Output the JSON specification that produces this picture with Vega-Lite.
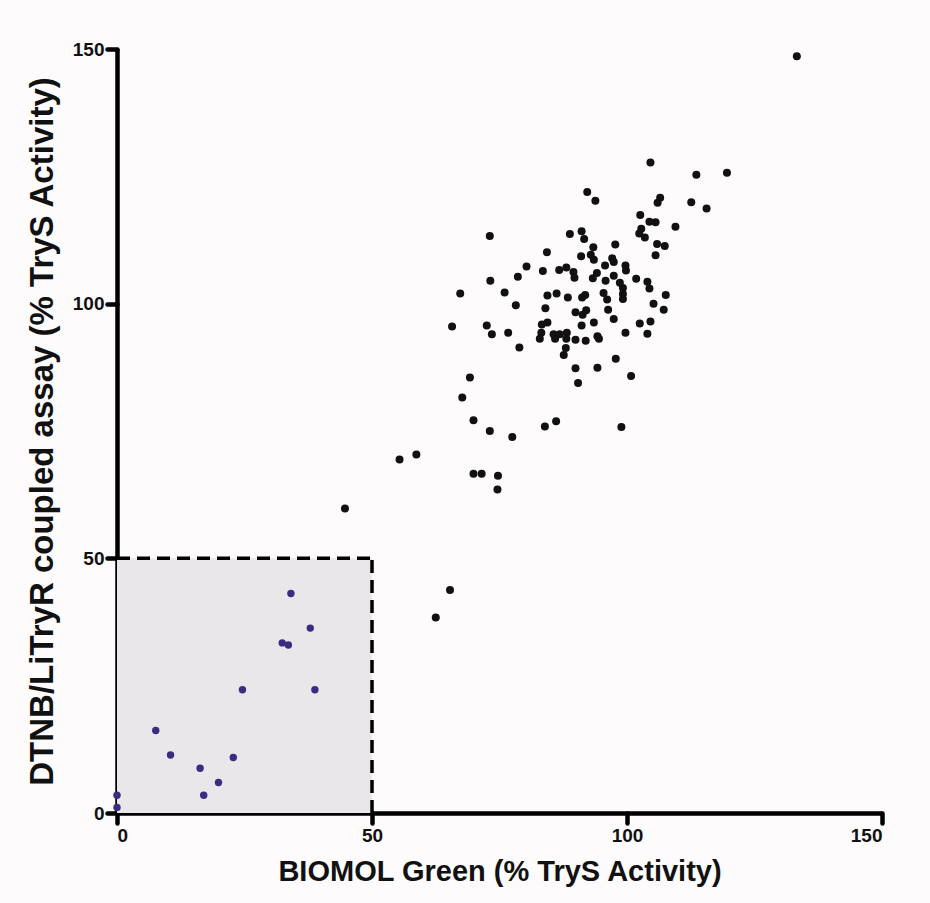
{
  "$schema": "https://vega.github.io/schema/vega-lite/v6.json",
  "autosize": {"type": "none"},
  "width": 765,
  "height": 764,
  "padding": {"left": 117, "top": 49, "right": 48, "bottom": 90},
  "background": "#fdfbfb",
  "config": {
    "view": {"stroke": null},
    "font": "Liberation Sans",
    "axis": {
      "domainColor": "#000000",
      "domainWidth": 4.5,
      "tickColor": "#000000",
      "tickWidth": 4.5,
      "tickSize": 10,
      "tickCap": "round",
      "grid": false,
      "labelFont": "Liberation Sans",
      "labelFontSize": 19,
      "labelFontWeight": "bold",
      "labelColor": "#111111",
      "labelPadding": 3,
      "titleFont": "Liberation Sans",
      "titleFontWeight": "bold",
      "titleColor": "#111111"
    }
  },
  "datasets": {
    "box": [{"x": 0, "x2": 50, "y": 0, "y2": 50}],
    "hline": [{"x": 0, "x2": 50, "y": 50}],
    "vline": [{"x": 50, "y": 0, "y2": 50}],
    "hits": [
      {"x": 34.1, "y": 43.1}, {"x": 37.9, "y": 36.3}, {"x": 32.4, "y": 33.4}, {"x": 33.6, "y": 33.0},
      {"x": 24.6, "y": 24.2}, {"x": 38.8, "y": 24.2}, {"x": 7.6, "y": 16.2}, {"x": 10.5, "y": 11.4},
      {"x": 16.3, "y": 8.8}, {"x": 19.9, "y": 6.0}, {"x": 17.0, "y": 3.5}, {"x": 22.8, "y": 10.9},
      {"x": 0, "y": 3.5}, {"x": 0, "y": 1.1}
    ],
    "pts": [
      {"x": 104.6, "y": 127.7}, {"x": 113.6, "y": 125.3}, {"x": 92.2, "y": 121.9}, {"x": 93.8, "y": 120.2},
      {"x": 106.5, "y": 120.8}, {"x": 106.0, "y": 119.8}, {"x": 112.6, "y": 119.9}, {"x": 115.6, "y": 118.7},
      {"x": 102.6, "y": 117.4}, {"x": 104.4, "y": 116.1}, {"x": 105.6, "y": 116.0}, {"x": 109.5, "y": 115.1},
      {"x": 102.8, "y": 114.7}, {"x": 102.4, "y": 113.8}, {"x": 103.5, "y": 113.0}, {"x": 73.1, "y": 113.3},
      {"x": 88.8, "y": 113.7}, {"x": 91.1, "y": 114.2}, {"x": 91.6, "y": 112.7}, {"x": 93.4, "y": 111.1},
      {"x": 97.7, "y": 111.6}, {"x": 105.9, "y": 111.7}, {"x": 107.4, "y": 111.3}, {"x": 105.6, "y": 109.5},
      {"x": 84.3, "y": 110.1}, {"x": 91.0, "y": 109.3}, {"x": 92.9, "y": 109.6}, {"x": 93.5, "y": 108.6},
      {"x": 97.1, "y": 108.9}, {"x": 97.4, "y": 108.2}, {"x": 95.7, "y": 107.5}, {"x": 99.7, "y": 107.5},
      {"x": 99.8, "y": 106.5}, {"x": 80.3, "y": 107.3}, {"x": 78.6, "y": 105.3}, {"x": 83.5, "y": 106.4},
      {"x": 86.7, "y": 106.6}, {"x": 88.1, "y": 107.1}, {"x": 89.5, "y": 106.2}, {"x": 89.7, "y": 105.1},
      {"x": 94.1, "y": 106.0}, {"x": 93.3, "y": 105.0}, {"x": 97.4, "y": 105.5}, {"x": 95.8, "y": 104.5},
      {"x": 101.8, "y": 104.9}, {"x": 98.6, "y": 104.1}, {"x": 99.2, "y": 103.1}, {"x": 104.0, "y": 104.3},
      {"x": 104.4, "y": 103.0}, {"x": 73.2, "y": 104.5}, {"x": 76.0, "y": 102.2}, {"x": 67.3, "y": 102.0},
      {"x": 78.2, "y": 99.7}, {"x": 84.0, "y": 99.1}, {"x": 84.4, "y": 101.6}, {"x": 86.2, "y": 102.0},
      {"x": 88.4, "y": 101.2}, {"x": 91.2, "y": 101.2}, {"x": 91.8, "y": 101.7}, {"x": 95.4, "y": 102.1},
      {"x": 96.1, "y": 100.8}, {"x": 99.2, "y": 101.9}, {"x": 99.2, "y": 100.9}, {"x": 107.6, "y": 101.7},
      {"x": 105.2, "y": 100.0}, {"x": 107.2, "y": 98.8}, {"x": 89.9, "y": 98.3}, {"x": 92.0, "y": 98.7},
      {"x": 96.3, "y": 98.8}, {"x": 97.4, "y": 97.0}, {"x": 91.3, "y": 97.8}, {"x": 65.7, "y": 95.5},
      {"x": 72.5, "y": 95.7}, {"x": 73.5, "y": 94.0}, {"x": 76.7, "y": 94.3}, {"x": 78.9, "y": 91.4},
      {"x": 83.3, "y": 95.9}, {"x": 84.4, "y": 96.3}, {"x": 83.2, "y": 94.3}, {"x": 82.9, "y": 93.1},
      {"x": 85.6, "y": 94.0}, {"x": 85.9, "y": 93.1}, {"x": 86.8, "y": 94.0}, {"x": 88.2, "y": 94.3},
      {"x": 88.1, "y": 93.1}, {"x": 88.0, "y": 91.3}, {"x": 87.6, "y": 89.9}, {"x": 89.9, "y": 92.9},
      {"x": 91.1, "y": 95.7}, {"x": 93.5, "y": 96.3}, {"x": 91.9, "y": 92.7}, {"x": 94.2, "y": 93.6},
      {"x": 94.5, "y": 93.1}, {"x": 99.7, "y": 94.3}, {"x": 102.5, "y": 96.1}, {"x": 104.6, "y": 96.5},
      {"x": 104.0, "y": 94.1}, {"x": 97.8, "y": 89.2}, {"x": 89.9, "y": 87.3}, {"x": 94.2, "y": 87.4},
      {"x": 90.4, "y": 84.4}, {"x": 100.8, "y": 85.8}, {"x": 69.2, "y": 85.5}, {"x": 67.7, "y": 81.6},
      {"x": 69.9, "y": 77.1}, {"x": 73.1, "y": 75.0}, {"x": 77.5, "y": 73.8}, {"x": 83.9, "y": 75.9},
      {"x": 86.1, "y": 76.9}, {"x": 98.9, "y": 75.8}, {"x": 69.9, "y": 66.6}, {"x": 71.5, "y": 66.6},
      {"x": 74.7, "y": 66.2}, {"x": 74.6, "y": 63.5}, {"x": 133.3, "y": 148.6}, {"x": 119.6, "y": 125.7},
      {"x": 55.4, "y": 69.4}, {"x": 58.7, "y": 70.4}, {"x": 44.7, "y": 59.8}, {"x": 65.3, "y": 43.8},
      {"x": 62.5, "y": 38.4}
    ]
  },
  "layer": [
    {
      "data": {"name": "box"},
      "mark": {"type": "rect", "color": "#e9e7ea"},
      "encoding": {
        "x": {"field": "x", "type": "quantitative", "scale": {"domain": [0, 150], "nice": false},
              "axis": {"values": [0, 50, 100, 150], "title": "BIOMOL Green (% TryS Activity)", "titleFontSize": 29, "titlePadding": 12}},
        "x2": {"field": "x2"},
        "y": {"field": "y", "type": "quantitative", "scale": {"domain": [0, 150], "nice": false},
              "axis": {"values": [0, 50, 100, 150], "title": "DTNB/LiTryR coupled assay (% TryS Activity)", "titleFontSize": 33, "titlePadding": 13}},
        "y2": {"field": "y2"}
      }
    },
    {
      "data": {"name": "hline"},
      "mark": {"type": "rule", "color": "#000000", "strokeWidth": 3.5, "strokeDash": [13, 7]},
      "encoding": {
        "x": {"field": "x", "type": "quantitative"},
        "x2": {"field": "x2"},
        "y": {"field": "y", "type": "quantitative"}
      }
    },
    {
      "data": {"name": "vline"},
      "mark": {"type": "rule", "color": "#000000", "strokeWidth": 3.5, "strokeDash": [13, 7]},
      "encoding": {
        "x": {"field": "x", "type": "quantitative"},
        "y": {"field": "y", "type": "quantitative"},
        "y2": {"field": "y2"}
      }
    },
    {
      "data": {"name": "pts"},
      "mark": {"type": "circle", "color": "#111111", "opacity": 1, "size": 64},
      "encoding": {
        "x": {"field": "x", "type": "quantitative"},
        "y": {"field": "y", "type": "quantitative"}
      }
    },
    {
      "data": {"name": "hits"},
      "mark": {"type": "circle", "color": "#3d2b82", "opacity": 1, "size": 55},
      "encoding": {
        "x": {"field": "x", "type": "quantitative"},
        "y": {"field": "y", "type": "quantitative"}
      }
    }
  ]
}
